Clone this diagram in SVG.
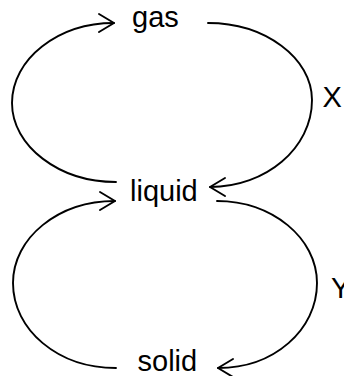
<svg xmlns="http://www.w3.org/2000/svg" width="344" height="376" viewBox="0 0 344 376">
<style>
.lbl{font-family:"Liberation Sans",Arial,Helvetica,sans-serif;font-size:29px;fill:#000}
.arc{fill:none;stroke:#000;stroke-width:1.9;stroke-linecap:round}
</style>
<defs>
<marker id="ah" markerUnits="userSpaceOnUse" viewBox="-17 -11 20 22" refX="0" refY="0" markerWidth="20" markerHeight="22" orient="auto">
<path d="M-15,-9 L0,0 L-15,9" fill="none" stroke="#000" stroke-width="1.9" stroke-linecap="round" stroke-linejoin="round"/>
</marker>
</defs>
<rect width="344" height="376" fill="#fff"/>
<g id="connectors">
<path id="liquid-gas" class="arc" marker-end="url(#ah)" d="M116,182 C59,182 12,146 12,103 C12,59 58,23 114,23"/>
<path id="gas-liquid" class="arc" marker-end="url(#ah)" d="M208,23 C265,23 312,58 312,100 C312,148 266,187 210,187"/>
<path id="solid-liquid" class="arc" marker-end="url(#ah)" d="M116,368 C58,368 13,330 13,283 C13,238 58,201 115,201"/>
<path id="liquid-solid" class="arc" marker-end="url(#ah)" d="M217,201 C272,201 317,238 317,283 C317,330 274,368 218,368"/>
</g>
<g id="gas"><text class="lbl" x="132" y="27">gas</text></g>
<g id="liquid"><text class="lbl" x="130" y="201">liquid</text></g>
<g id="solid"><text class="lbl" x="137.5" y="371">solid</text></g>
<g id="label-x"><text class="lbl" x="322.5" y="107">X</text></g>
<g id="label-y"><text class="lbl" x="331" y="298">Y</text></g>
</svg>
